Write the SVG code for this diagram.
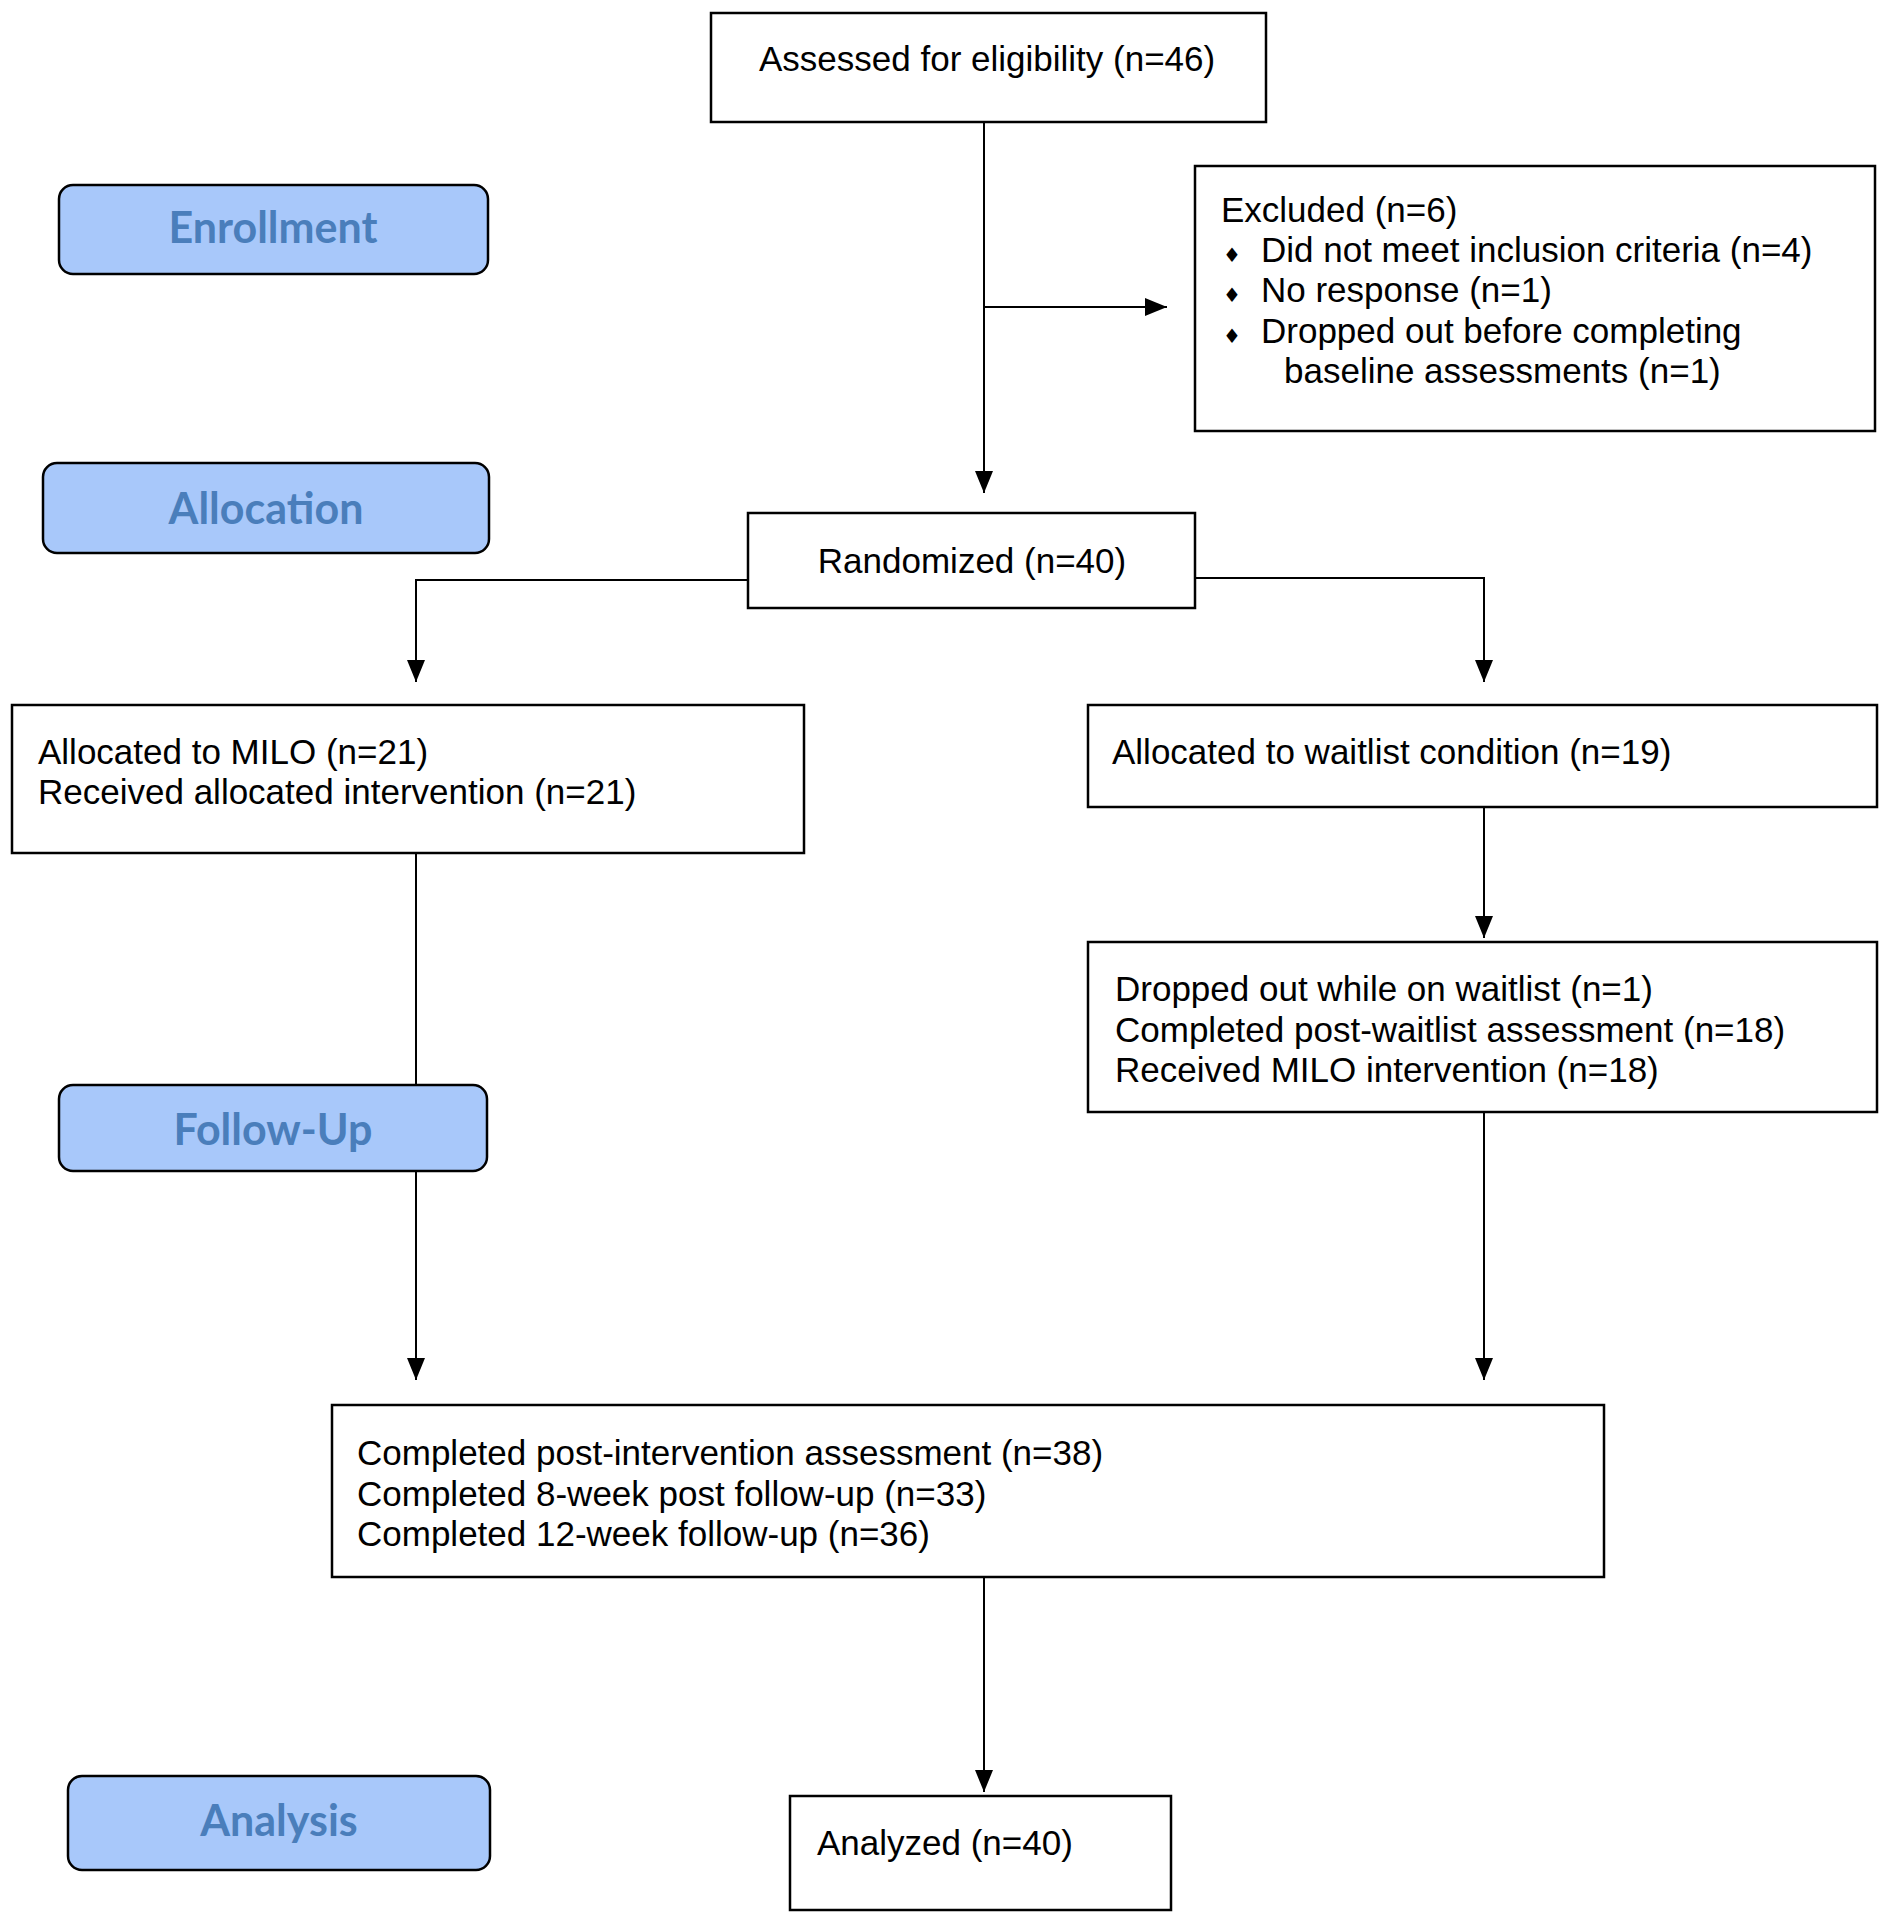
<svg xmlns="http://www.w3.org/2000/svg" width="1887" height="1920" viewBox="0 0 1887 1920">
<style>
.box{fill:#ffffff;stroke:#000000;stroke-width:2.5}
.phase{fill:#a8c8fa;stroke:#000000;stroke-width:2.5}
.t{font-family:"Liberation Sans",Arial,sans-serif;font-size:35px;fill:#000000}
.pt{font-family:Lato,"Open Sans",sans-serif;font-weight:bold;font-size:43px;fill:#4a7ebb;text-anchor:middle}
.b{font-family:"DejaVu Sans",sans-serif;font-size:20px;fill:#000000;text-anchor:middle}
.c{fill:none;stroke:#000000;stroke-width:2}
</style>
<defs>
<marker id="arr" markerUnits="userSpaceOnUse" markerWidth="24" markerHeight="20" refX="22" refY="9" orient="auto">
<path d="M0,0 L22,9 L0,18 z" fill="#000000"/>
</marker>
</defs>
<rect width="1887" height="1920" fill="#ffffff"/>
<g id="connectors">
<line class="c" x1="984" y1="122" x2="984" y2="493" marker-end="url(#arr)"/>
<line class="c" x1="984" y1="307" x2="1167" y2="307" marker-end="url(#arr)"/>
<polyline class="c" points="748,580 416,580 416,682" marker-end="url(#arr)"/>
<polyline class="c" points="1195,578 1484,578 1484,682" marker-end="url(#arr)"/>
<line class="c" x1="1484" y1="807" x2="1484" y2="938" marker-end="url(#arr)"/>
<line class="c" x1="416" y1="853" x2="416" y2="1380" marker-end="url(#arr)"/>
<line class="c" x1="1484" y1="1112" x2="1484" y2="1380" marker-end="url(#arr)"/>
<line class="c" x1="984" y1="1577" x2="984" y2="1792" marker-end="url(#arr)"/>
</g>
<g id="phase-enrollment">
<rect class="phase" x="59" y="185" width="429" height="89" rx="14"/>
<text class="pt" x="273" y="243">Enrollment</text>
</g>
<g id="phase-allocation">
<rect class="phase" x="43" y="463" width="446" height="90" rx="14"/>
<text class="pt" x="266" y="524">Allocation</text>
</g>
<g id="phase-followup">
<rect class="phase" x="59" y="1085" width="428" height="86" rx="14"/>
<text class="pt" x="273" y="1145">Follow-Up</text>
</g>
<g id="phase-analysis">
<rect class="phase" x="68" y="1776" width="422" height="94" rx="14"/>
<text class="pt" x="279" y="1836">Analysis</text>
</g>
<g id="node-assessed">
<rect class="box" x="711" y="13" width="555" height="109"/>
<text class="t" x="759" y="71">Assessed for eligibility (n=46)</text>
</g>
<g id="node-excluded">
<rect class="box" x="1195" y="166" width="680" height="265"/>
<text class="t" x="1221" y="222">Excluded (n=6)</text>
<text class="b" x="1232" y="262">♦</text>
<text class="t" x="1261" y="262">Did not meet inclusion criteria (n=4)</text>
<text class="b" x="1232" y="302">♦</text>
<text class="t" x="1261" y="302">No response (n=1)</text>
<text class="b" x="1232" y="343">♦</text>
<text class="t" x="1261" y="343">Dropped out before completing</text>
<text class="t" x="1284" y="383">baseline assessments (n=1)</text>
</g>
<g id="node-randomized">
<rect class="box" x="748" y="513" width="447" height="95"/>
<text class="t" x="972" y="573" text-anchor="middle">Randomized (n=40)</text>
</g>
<g id="node-milo">
<rect class="box" x="12" y="705" width="792" height="148"/>
<text class="t" x="38" y="764">Allocated to MILO (n=21)</text>
<text class="t" x="38" y="804">Received allocated intervention (n=21)</text>
</g>
<g id="node-waitlist">
<rect class="box" x="1088" y="705" width="789" height="102"/>
<text class="t" x="1112" y="764">Allocated to waitlist condition (n=19)</text>
</g>
<g id="node-dropped">
<rect class="box" x="1088" y="942" width="789" height="170"/>
<text class="t" x="1115" y="1001">Dropped out while on waitlist (n=1)</text>
<text class="t" x="1115" y="1042">Completed post-waitlist assessment (n=18)</text>
<text class="t" x="1115" y="1082">Received MILO intervention (n=18)</text>
</g>
<g id="node-completed">
<rect class="box" x="332" y="1405" width="1272" height="172"/>
<text class="t" x="357" y="1465">Completed post-intervention assessment (n=38)</text>
<text class="t" x="357" y="1506">Completed 8-week post follow-up (n=33)</text>
<text class="t" x="357" y="1546">Completed 12-week follow-up (n=36)</text>
</g>
<g id="node-analyzed">
<rect class="box" x="790" y="1796" width="381" height="114"/>
<text class="t" x="817" y="1855">Analyzed (n=40)</text>
</g>
</svg>
